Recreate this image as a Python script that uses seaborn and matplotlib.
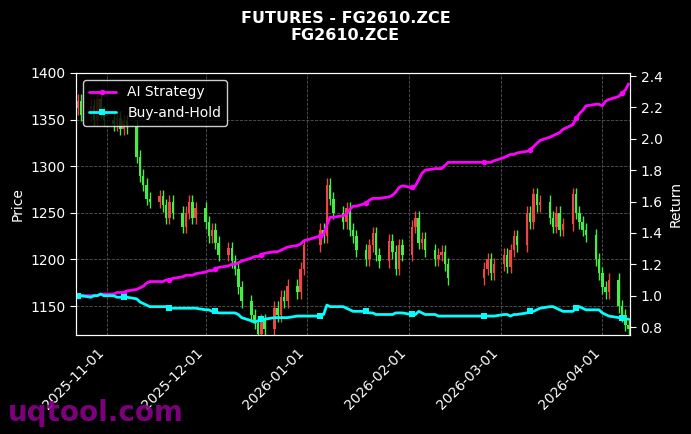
import matplotlib
matplotlib.use("Agg")
import matplotlib.pyplot as plt
import matplotlib.dates as mdates
import seaborn as sns
import pandas as pd
import numpy as np

closes = [1370, 1355, 1365, 1350, 1372, 1358, 1350,
          1345, 1352, 1340, 1348, 1342, 1310, 1290, 1280, 1265, 1262, 1268, 1258, 1245, 1262, 1250, 1235, 1250, 1262, 1245, 1255,
          1240, 1225, 1232, 1218, 1205, 1212, 1198, 1190, 1170, 1155, 1140, 1132, 1120, 1135, 1125, 1148, 1140, 1160, 1155, 1172, 1165, 1190, 1215,
          1232, 1225, 1280, 1265, 1250, 1240, 1255, 1232, 1225, 1210, 1200, 1215, 1228, 1205, 1198, 1220, 1208, 1190, 1215, 1205,
          1235, 1245, 1218, 1222, 1210, 1200, 1205, 1208, 1195, 1180, 1190, 1200, 1185, 1195,
          1205, 1192, 1210, 1225, 1215, 1250, 1240, 1270, 1258, 1262, 1245, 1235, 1250, 1232, 1238, 1270, 1250, 1240, 1232, 1226, 1200, 1185,
          1170, 1165, 1178, 1150, 1140, 1130, 1125]
first_open = 1362

ai_strategy = [1.00, 1.00, 1.00, 1.00, 1.00, 1.01, 1.01,
               1.01, 1.02, 1.02, 1.02, 1.03, 1.04, 1.05, 1.06, 1.08, 1.09, 1.09, 1.09, 1.10, 1.10, 1.11, 1.12, 1.13, 1.13, 1.13, 1.14,
               1.15, 1.16, 1.16, 1.17, 1.18, 1.19, 1.20, 1.20, 1.21, 1.22, 1.24, 1.25, 1.25, 1.26, 1.27, 1.28, 1.28, 1.29, 1.30, 1.31, 1.32, 1.33, 1.35,
               1.38, 1.39, 1.45, 1.50, 1.50, 1.51, 1.52, 1.55, 1.57, 1.57, 1.59, 1.61, 1.62, 1.62, 1.62, 1.63, 1.64, 1.66, 1.69, 1.70,
               1.69, 1.70, 1.74, 1.78, 1.80, 1.81, 1.81, 1.81, 1.83, 1.85, 1.85, 1.85, 1.85, 1.86,
               1.88, 1.89, 1.90, 1.90, 1.91, 1.92, 1.93, 1.95, 1.97, 1.99, 2.01, 2.02, 2.03, 2.04, 2.06, 2.09, 2.13, 2.16, 2.18, 2.21, 2.22, 2.22,
               2.21, 2.24, 2.25, 2.27, 2.29, 2.31, 2.35]
buy_hold = [1.00, 1.00, 0.99, 1.00, 1.00, 1.01, 1.00,
            1.00, 0.99, 0.99, 0.99, 0.99, 0.98, 0.96, 0.95, 0.94, 0.93, 0.93, 0.93, 0.93, 0.92, 0.92, 0.92, 0.92, 0.92, 0.92, 0.92,
            0.91, 0.91, 0.90, 0.90, 0.89, 0.89, 0.89, 0.89, 0.88, 0.86, 0.84, 0.83, 0.84, 0.85, 0.85, 0.86, 0.86, 0.86, 0.86, 0.86, 0.87, 0.87, 0.87,
            0.87, 0.88, 0.94, 0.93, 0.93, 0.93, 0.92, 0.91, 0.90, 0.90, 0.90, 0.89, 0.89, 0.88, 0.88, 0.88, 0.88, 0.89, 0.89, 0.89,
            0.88, 0.88, 0.90, 0.89, 0.88, 0.88, 0.87, 0.87, 0.87, 0.87, 0.87, 0.87, 0.87, 0.87,
            0.88, 0.88, 0.87, 0.88, 0.88, 0.89, 0.90, 0.90, 0.91, 0.92, 0.93, 0.93, 0.92, 0.91, 0.90, 0.90, 0.92, 0.93, 0.92, 0.91, 0.91, 0.91,
            0.89, 0.88, 0.87, 0.86, 0.86, 0.85, 0.85]

holidays = pd.to_datetime(["2026-01-01", "2026-01-02", "2026-02-16", "2026-02-17", "2026-02-18",
                           "2026-02-19", "2026-02-20", "2026-02-23"])
dates = pd.bdate_range("2025-10-23", "2026-04-09")
dates = dates[~dates.isin(holidays)]
n = min(len(dates), len(closes))
dates = dates[:n]
df = pd.DataFrame({"date": dates, "close": closes[:n], "ai": ai_strategy[:n], "bh": buy_hold[:n]})
df["open"] = df["close"].shift(1).fillna(first_open)
df["high"] = df[["open", "close"]].max(axis=1) + 7
df["low"] = df[["open", "close"]].min(axis=1) - 7

sns.set_style("dark")
plt.rcParams["font.family"] = ["DejaVu Sans"]
fig = plt.figure(figsize=(6.91, 4.34), dpi=100, facecolor="black")
ax = fig.add_axes([0.110, 0.228, 0.802, 0.604])
ax.set_facecolor("black")
x = mdates.date2num(df["date"])
up = df["close"] >= df["open"]
cols = np.where(up, "#ee4444", "#44ee44")
ax.vlines(x, df["low"], df["high"], colors=cols, lw=1)
ax.bar(x, (df["close"] - df["open"]).abs().clip(lower=1), bottom=df[["open", "close"]].min(axis=1),
       width=0.75, color=cols, edgecolor=cols, linewidth=0)
ax.set_ylim(1119, 1400)
ax.set_xlim(x[0] - 0.5, x[-1] + 0.5)
ax.set_ylabel("Price", color="white")
ax.grid(True, color="#555555", ls="--", lw=0.6)
ax.xaxis.set_major_locator(mdates.MonthLocator())
ax.xaxis.set_major_formatter(mdates.DateFormatter("%Y-%m-%d"))

ax2 = ax.twinx()
sns.lineplot(x=x, y=df["ai"], ax=ax2, color="#ff00ff", lw=2, marker="o", markersize=4,
             markevery=10, markeredgewidth=0, label="AI Strategy")
sns.lineplot(x=x, y=df["bh"], ax=ax2, color="#00ffff", lw=2, marker="s", markersize=4,
             markevery=10, markeredgewidth=0, label="Buy-and-Hold")
ax2.set_ylim(0.749, 2.42)
ax2.set_ylabel("Return", color="white")
ax2.set_xlim(x[0] - 0.5, x[-1] + 0.5)
leg = ax2.legend(loc="upper left", facecolor="black", edgecolor="white", labelcolor="white", fontsize=10)

for a in (ax, ax2):
    a.tick_params(colors="white", labelsize=10, length=4)
    for s in a.spines.values():
        s.set_color("white")
for lbl in ax.get_xticklabels():
    lbl.set_rotation(45)
    lbl.set_ha("right")

fig.suptitle("FUTURES - FG2610.ZCE\nFG2610.ZCE", color="white", fontweight="bold", fontsize=11.5, y=0.975)
fig.text(0.012, 0.03, "uqtool.com", color="#8B008B", fontsize=20, fontweight="bold", alpha=0.9)
fig.savefig("out.png", dpi=100, facecolor="black")
